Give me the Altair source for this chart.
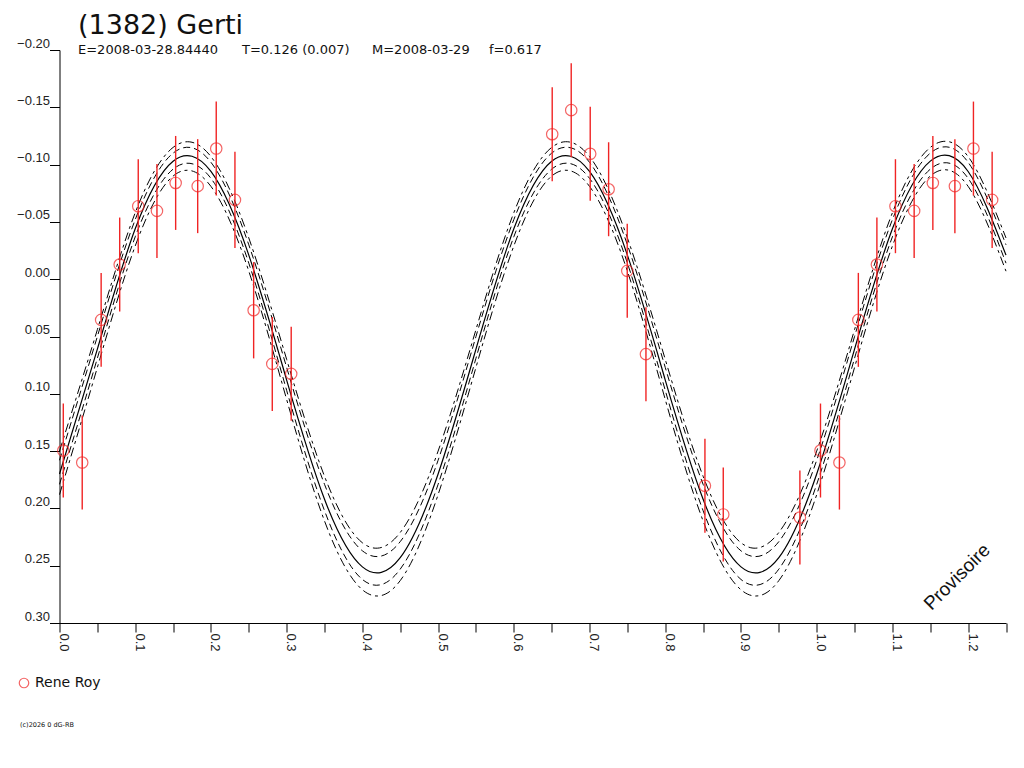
import altair as alt
import pandas as pd

# ---- observations (Rene Roy) ----
obs_phase = [0.005, 0.030, 0.055, 0.0795, 0.104, 0.1287, 0.1534, 0.1825, 0.207, 0.2317,
             0.2564, 0.281, 0.306, 0.6507, 0.6758, 0.7009, 0.7252, 0.7498, 0.7745,
             0.8524, 0.8766, 0.9778]
obs_mag = [0.1495, 0.160, 0.0355, -0.0128, -0.0637, -0.0596, -0.084, -0.0812, -0.114, -0.0692,
           0.0271, 0.0739, 0.0826, -0.1265, -0.1475, -0.1094, -0.0785, -0.0073, 0.0654,
           0.1803, 0.2053, 0.208]
obs_err = [0.041, 0.041, 0.041, 0.041, 0.041, 0.041, 0.041, 0.041, 0.041, 0.042,
           0.042, 0.041, 0.041, 0.041, 0.041, 0.041, 0.041, 0.041, 0.041,
           0.041, 0.041, 0.041]

# ---- fitted curve and uncertainty envelopes, read every 0.05 in phase ----
curve_phase = [0.00, 0.05, 0.10, 0.15, 0.20, 0.25, 0.30, 0.35, 0.40, 0.45,
               0.50, 0.55, 0.60, 0.65, 0.70, 0.75, 0.80, 0.85, 0.90, 0.95,
               1.00, 1.05, 1.10, 1.15, 1.20, 1.25]
curve_solid = [0.170, 0.061, -0.044, -0.103, -0.094, -0.021, 0.088, 0.192, 0.251, 0.243,
               0.170, 0.061, -0.044, -0.103, -0.094, -0.021, 0.088, 0.192, 0.251, 0.243,
               0.170, 0.061, -0.044, -0.103, -0.094, -0.021]
curve_upper_outer = [0.150, 0.044, -0.058, -0.115, -0.107, -0.036, 0.070, 0.172, 0.230, 0.221,
                     0.150, 0.044, -0.058, -0.115, -0.107, -0.036, 0.070, 0.172, 0.230, 0.221,
                     0.150, 0.044, -0.058, -0.115, -0.107, -0.036]
curve_upper_inner = [0.158, 0.050, -0.052, -0.110, -0.102, -0.030, 0.077, 0.179, 0.237, 0.229,
                     0.158, 0.050, -0.052, -0.110, -0.102, -0.030, 0.077, 0.179, 0.237, 0.229,
                     0.158, 0.050, -0.052, -0.110, -0.102, -0.030]
curve_lower_inner = [0.179, 0.069, -0.037, -0.096, -0.088, -0.014, 0.097, 0.202, 0.262, 0.253,
                     0.179, 0.069, -0.037, -0.096, -0.088, -0.014, 0.097, 0.202, 0.262, 0.253,
                     0.179, 0.069, -0.037, -0.096, -0.088, -0.014]
curve_lower_outer = [0.188, 0.077, -0.029, -0.090, -0.081, -0.007, 0.105, 0.211, 0.271, 0.263,
                     0.188, 0.077, -0.029, -0.090, -0.081, -0.007, 0.105, 0.211, 0.271, 0.263,
                     0.188, 0.077, -0.029, -0.090, -0.081, -0.007]

y_ticks = [-0.20, -0.15, -0.10, -0.05, 0.00, 0.05, 0.10, 0.15, 0.20, 0.25, 0.30]
x_ticks = [0.0, 0.05, 0.1, 0.15, 0.2, 0.25, 0.3, 0.35, 0.4, 0.45, 0.5, 0.55, 0.6, 0.65,
           0.7, 0.75, 0.8, 0.85, 0.9, 0.95, 1.0, 1.05, 1.1, 1.15, 1.2, 1.25]

title_text = "(1382) Gerti"
sub_parts = ["E=2008-03-28.84440", "T=0.126 (0.007)", "M=2008-03-29", "f=0.617"]
legend_label = "Rene Roy"
watermark = "Provisoire"
copyright_text = "(c)2026 0 dG-RB"

FONT = "DejaVu Sans"
AXFONT = "Liberation Sans"
RED = "#f02424"

# ---- tables ----
obs = pd.DataFrame({"phase": obs_phase, "mag": obs_mag, "err": obs_err})
wrap = obs[obs["phase"] + 1 <= 1.25].copy()
wrap["phase"] = wrap["phase"] + 1
obs_all = pd.concat([obs, wrap], ignore_index=True)
obs_all["lo"] = obs_all["mag"] - obs_all["err"]
obs_all["hi"] = obs_all["mag"] + obs_all["err"]

curves = pd.DataFrame({
    "phase": curve_phase,
    "solid": curve_solid,
    "upper_outer": curve_upper_outer,
    "upper_inner": curve_upper_inner,
    "lower_inner": curve_lower_inner,
    "lower_outer": curve_lower_outer,
})

x_scale = alt.Scale(domain=[0, 1.25], nice=False, zero=False)
y_scale = alt.Scale(domain=[-0.20, 0.30], nice=False, zero=False, reverse=True)

x_axis = alt.Axis(values=x_ticks, title=None, grid=False,
                  labelExpr="round(datum.value*20) % 2 == 0 ? format(datum.value, '.1f') : ''",
                  labelAngle=90, labelAlign="left", labelBaseline="alphabetic",
                  labelPadding=1, tickSize=9, labelFont=AXFONT, labelFontSize=13,
                  labelColor="#222222", domainColor="#000000", tickColor="#000000",
                  labelOverlap=False, labelFlush=False)
y_axis = alt.Axis(values=y_ticks, format=".2f", title=None, grid=False,
                  labelAlign="right", labelBaseline="bottom", labelPadding=0,
                  tickSize=10, labelFont=AXFONT, labelFontSize=13, labelColor="#222222",
                  domainColor="#000000", tickColor="#000000",
                  labelOverlap=False, labelFlush=False)

base_c = alt.Chart(curves)


def curve_layer(col, dash, width):
    kw = dict(color="#000000", strokeWidth=width, interpolate="natural")
    if dash:
        kw["strokeDash"] = dash
    return base_c.mark_line(**kw).encode(
        x=alt.X("phase:Q", scale=x_scale, axis=x_axis),
        y=alt.Y(col + ":Q", scale=y_scale, axis=y_axis),
    )


layers = [
    curve_layer("upper_outer", [9, 4, 3, 4], 1),
    curve_layer("upper_inner", [7, 4], 1),
    curve_layer("solid", None, 1.2),
    curve_layer("lower_inner", [7, 4], 1),
    curve_layer("lower_outer", [9, 4, 3, 4], 1),
]

base_o = alt.Chart(obs_all)
bars = base_o.mark_rule(color=RED, strokeWidth=1.4).encode(
    x=alt.X("phase:Q", scale=x_scale, axis=x_axis),
    y=alt.Y("lo:Q", scale=y_scale, axis=y_axis),
    y2="hi:Q",
)
pts = base_o.mark_point(shape="circle", filled=False, size=130, strokeWidth=1.2,
                        color=RED).encode(
    x=alt.X("phase:Q", scale=x_scale, axis=x_axis),
    y=alt.Y("mag:Q", scale=y_scale, axis=y_axis),
)
layers += [bars, pts]


def text_layer(txt, x, y, size, align="left", baseline="alphabetic", angle=None,
               color="#111111", font=FONT):
    kw = dict(font=font, fontSize=size, align=align, baseline=baseline, color=color)
    if angle is not None:
        kw["angle"] = angle
    return alt.Chart(pd.DataFrame({"t": [txt]})).mark_text(**kw).encode(
        x=alt.value(x), y=alt.value(y), text="t:N")


# title and subtitle (positions relative to the plot origin)
layers.append(text_layer(title_text, 18.5, -16, 27))
sub_x = [18.5, 182.5, 312.5, 429.5]
for part, sx in zip(sub_parts, sub_x):
    layers.append(text_layer(part, sx, 3.5, 13))

# legend
layers.append(alt.Chart(pd.DataFrame({"t": [legend_label]})).mark_point(
    shape="circle", filled=False, size=90, strokeWidth=1.2, color=RED).encode(
    x=alt.value(-35.5), y=alt.value(633)))
layers.append(text_layer(legend_label, -24.5, 633, 14, baseline="middle"))

# copyright
layers.append(text_layer(copyright_text, -39.5, 675, 6.5, baseline="middle"))

# watermark
layers.append(text_layer(watermark, 897.5, 527, 19, align="center",
                         baseline="middle", angle=315, font=AXFONT))

chart = alt.layer(*layers).properties(
    width=946.5,
    height=573,
    autosize=alt.AutoSizeParams(type="none"),
    padding={"left": 51.5, "top": 42, "right": 10, "bottom": 130},
    background="#ffffff",
).configure_view(stroke=None)

chart.save("out.html", embed_options={"renderer": "svg", "actions": False})
